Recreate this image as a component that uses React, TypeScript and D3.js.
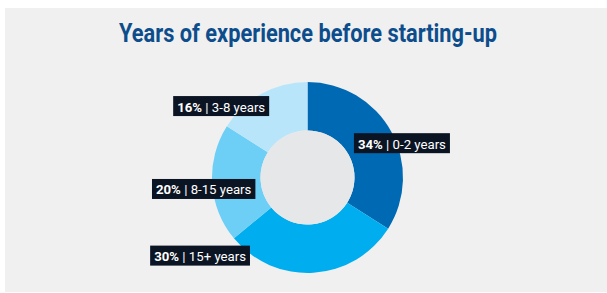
import React, { useEffect, useRef } from "react";
import * as d3 from "d3";

const categories = ["0-2 years", "15+ years", "8-15 years", "3-8 years"];
const shares = [34, 30, 20, 16];
const colors = ["#0069b4", "#00aeef", "#6dcff6", "#b9e5fb"];
// label anchor relative to slice centroid: side of box that touches the anchor, and offset
const labelSide = ["left", "right", "right", "right"];
const labelDx = [-16, -62, 19, -4];
const labelDy = [0, 7, 7, -9];

const W = 607;
const H = 293;

export default function App() {
  const ref = useRef<SVGSVGElement>(null);

  useEffect(() => {
    const svg = d3.select(ref.current);
    svg.selectAll("*").remove();

    svg.append("rect")
      .attr("x", 5).attr("y", 8)
      .attr("width", W - 5).attr("height", 284)
      .attr("fill", "#f0f0f0");

    svg.append("text")
      .attr("x", 308).attr("y", 42)
      .attr("text-anchor", "middle")
      .attr("font-family", "'Liberation Sans Narrow', Roboto, sans-serif")
      .attr("font-weight", 700)
      .attr("font-size", 25)
      .attr("textLength", 378)
      .attr("lengthAdjust", "spacingAndGlyphs")
      .attr("fill", "#0d4d8c")
      .text("Years of experience before starting-up");

    const cx = 307.5, cy = 177.5, outerR = 95.5, innerR = 47;
    const g = svg.append("g").attr("transform", `translate(${cx},${cy})`);

    const data = categories.map((c, i) => ({ label: c, value: shares[i], i }));
    const pie = d3.pie<any>().value((d) => d.value).sort(null);
    const arc = d3.arc<any>().innerRadius(innerR).outerRadius(outerR);
    const mid = d3.arc<any>().innerRadius((innerR + outerR) / 2).outerRadius((innerR + outerR) / 2);

    const arcs = pie(data);
    g.selectAll("path.slice")
      .data(arcs)
      .enter()
      .append("path")
      .attr("class", "slice")
      .attr("d", arc)
      .attr("fill", (d: any) => colors[d.data.i]);

    g.append("circle").attr("r", innerR).attr("fill", "#e6e7e8");

    arcs.forEach((d: any) => {
      const i = d.data.i;
      const [mx, my] = mid.centroid(d);
      const lg = g.append("g");
      const t = lg.append("text")
        .attr("font-family", "Roboto, sans-serif")
        .attr("font-size", 13.2)
        .attr("fill", "#ffffff")
        .attr("dominant-baseline", "central");
      t.append("tspan").attr("font-weight", 700).text(`${d.data.value}%`);
      t.append("tspan").text(` | ${d.data.label}`);
      const w = (t.node() as SVGTextElement).getComputedTextLength();
      const boxW = w + 8;
      const boxH = 20;
      const ax = mx + labelDx[i];
      const ay = my + labelDy[i];
      const x0 = labelSide[i] === "left" ? ax : ax - boxW;
      lg.insert("rect", "text")
        .attr("x", x0).attr("y", ay - boxH / 2)
        .attr("width", boxW).attr("height", boxH)
        .attr("fill", "#0b1423");
      t.attr("x", x0 + 4).attr("y", ay + 0.5);
    });
  }, []);

  return (
    <svg
      ref={ref}
      width={W}
      height={H}
      style={{ position: "absolute", left: 0, top: 0, display: "block", background: "#ffffff" }}
    />
  );
}
